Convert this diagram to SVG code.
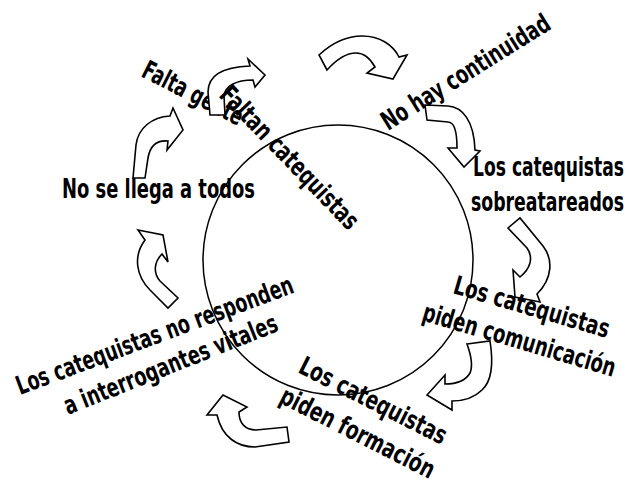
<svg xmlns="http://www.w3.org/2000/svg" width="629" height="483" viewBox="0 0 629 483">
<style>
.arrow{fill:#fff;stroke:#000;stroke-width:1.6;stroke-linejoin:miter}
.ring{fill:none;stroke:#000;stroke-width:1.5}
.lbl{font-family:"DejaVu Sans Condensed","DejaVu Sans",sans-serif;font-weight:bold;font-size:26px;fill:#000}
</style>
<rect width="629" height="483" fill="#fff"/>
<circle class="ring" cx="338" cy="260" r="135"/>
<g id="n-falta-gente"><text class="lbl" x="0" y="0" textLength="169.2" lengthAdjust="spacingAndGlyphs" transform="translate(140 76) rotate(27) scale(0.65 1)">Falta gente</text></g>
<g id="n-no-hay"><text class="lbl" x="0" y="0" textLength="298.5" lengthAdjust="spacingAndGlyphs" transform="translate(388 131) rotate(-32) scale(0.65 1)">No hay continuidad</text></g>
<g id="connectors">
<path class="arrow" d="M319,55 C333,42 348,36 362,36 C380,36 393,45 399,57 L407,55 L393,79 L367,73 L375,67 C370,58 364,53 356,53 C346,53 336,60 327,70 Z"/>
<path class="arrow" d="M425,105 L448,106 C462,107 474,120 475,150 L480,151 L464,167 L448,148 L457,148 C457,130 454,122 448,122 L427,120 Z"/>
<path class="arrow" d="M508,228 L520,218 L543,246 C553,259 553,278 537,294 L540,302 L515,297 L513,270 L520,277 C530,269 534,258 527,248 Z"/>
<path class="arrow" d="M467,344 L490,341 C493,360 493,380 482,390 C474,398 462,401 452,401 L452,410 L427,395 L445,375 L445,384 C458,384 466,380 470,373 C473,366 471,355 467,344 Z"/>
<path class="arrow" d="M223,395 L247,407 L239,412 C239,423 245,430 256,430 L287,427 L289,442 L255,447 C237,447 222,437 217,415 L207,415 Z"/>
<path class="arrow" d="M138,230 L163,235 L168,262 L162,254 C154,262 153,273 160,281 L178,298 L168,308 L150,290 C136,276 133,256 145,240 Z"/>
<path class="arrow" d="M133,178 L136,145 C138,128 152,117 170,116 L173,108 L183,130 L167,150 L168,141 C157,140 150,146 148,158 L145,178 Z"/>
<path class="arrow" d="M210,115 L208,92 C208,76 222,67 250,66 L248,59 L265,75 L255,87 L253,80 C236,80 225,86 224,96 L225,115 Z"/>
</g>
<g id="n-faltan"><text class="lbl" x="0" y="0" textLength="289.2" lengthAdjust="spacingAndGlyphs" transform="translate(218 96) rotate(46) scale(0.65 1)">Faltan catequistas</text></g>
<g id="n-sobreatareados">
<text class="lbl" x="0" y="0" textLength="232.3" lengthAdjust="spacingAndGlyphs" transform="translate(473 176) scale(0.65 1)">Los catequistas</text>
<text class="lbl" x="0" y="0" textLength="235.4" lengthAdjust="spacingAndGlyphs" transform="translate(471 211) scale(0.65 1)">sobreatareados</text>
</g>
<g id="n-comunicacion">
<text class="lbl" x="0" y="0" textLength="247.7" lengthAdjust="spacingAndGlyphs" transform="translate(452 293) rotate(16.2) scale(0.65 1)">Los catequistas</text>
<text class="lbl" x="0" y="0" textLength="307.7" lengthAdjust="spacingAndGlyphs" transform="translate(421 320) rotate(16.5) scale(0.65 1)">piden comunicación</text>
</g>
<g id="n-formacion">
<text class="lbl" x="0" y="0" textLength="249.2" lengthAdjust="spacingAndGlyphs" transform="translate(297 372) rotate(26.8) scale(0.65 1)">Los catequistas</text>
<text class="lbl" x="0" y="0" textLength="261.5" lengthAdjust="spacingAndGlyphs" transform="translate(278 402) rotate(27) scale(0.65 1)">piden formación</text>
</g>
<g id="n-no-responden">
<text class="lbl" x="0" y="0" textLength="452.3" lengthAdjust="spacingAndGlyphs" transform="translate(20 395) rotate(-20.5) scale(0.65 1)">Los catequistas no responden</text>
<text class="lbl" x="0" y="0" textLength="350.8" lengthAdjust="spacingAndGlyphs" transform="translate(68 415) rotate(-21.8) scale(0.65 1)">a interrogantes vitales</text>
</g>
<g id="n-no-se-llega"><text class="lbl" x="0" y="0" textLength="296.9" lengthAdjust="spacingAndGlyphs" transform="translate(62 198) scale(0.65 1)">No se llega a todos</text></g>
</svg>
